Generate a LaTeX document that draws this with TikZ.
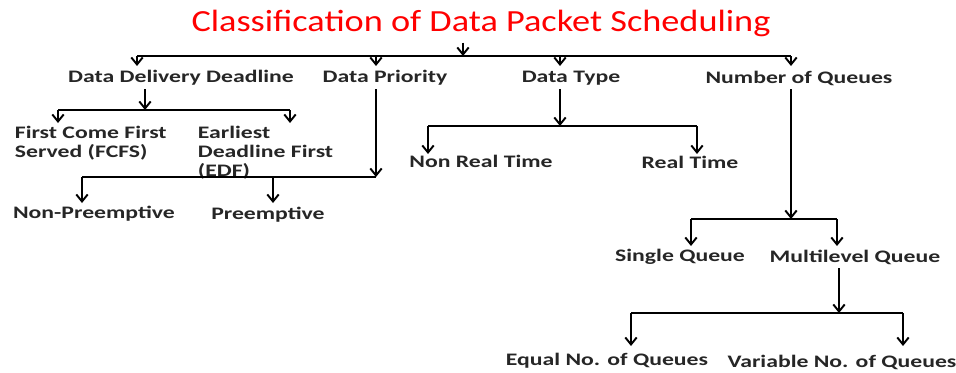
\documentclass[tikz,border=0pt]{standalone}
\usepackage{fontspec}
\setmainfont{Carlito}
\newfontfamily\ttlfont{Carlito}[FakeStretch=1.18]
\newfontfamily\lblfont{Carlito}[FakeStretch=1.35]
\usetikzlibrary{arrows.meta}

\tikzset{
  lbl/.style={font=\lblfont\bfseries\fontsize{10}{10.8}\selectfont,text=black!85,inner sep=2pt},
  conn/.style={line width=1.1pt,-{Straight Barb[length=4pt,width=6.5pt,line width=1.1pt]}}
}

\begin{document}
\begin{tikzpicture}[x=0.02cm,y=-0.02cm]
                \useasboundingbox (0,0) rectangle (956,372);
                \node[font=\ttlfont\fontsize{17.5}{20}\selectfont,text=red] (T) at (481,23) {Classification of Data Packet Scheduling};
                \node[lbl] (A) at (181,78) {Data Delivery Deadline};
                \node[lbl] (B) at (385,78) {Data Priority};
                \node[lbl] (C) at (571,78) {Data Type};
                \node[lbl] (D) at (799,78) {Number of Queues};
                \node[lbl,align=left,anchor=west] (E) at (11,143) {First Come First\\Served (FCFS)};
                \node[lbl,align=left,anchor=west] (F) at (194,153) {Earliest\\Deadline First\\(EDF)};
                \node[lbl] (G) at (94,214) {Non-Preemptive};
                \node[lbl] (H) at (268,215) {Preemptive};
                \node[lbl] (I) at (481,161) {Non Real Time};
                \node[lbl] (J) at (690,162) {Real Time};
                \node[lbl] (K) at (680,257) {Single Queue};
                \node[lbl] (L) at (855,257) {Multilevel Queue};
                \node[lbl] (M) at (607,361) {Equal No. of Queues};
                \node[lbl] (N) at (842,362) {Variable No. of Queues};
                % junctions on the bus lines
                \coordinate (t1) at (463,56);
                \coordinate (a1) at (145,110);
                \coordinate (b1) at (376,177);
                \coordinate (c1) at (560,126);
                \coordinate (d1) at (791,219);
                \coordinate (l1) at (839,313);
                % arrow tips
                \coordinate (a) at (137,66);
                \coordinate (b) at (376,66);
                \coordinate (c) at (560,66);
                \coordinate (d) at (791,66);
                \coordinate (e) at (58,123);
                \coordinate (f) at (290,123);
                \coordinate (g) at (82,203);
                \coordinate (h) at (273,203);
                \coordinate (i) at (428,154);
                \coordinate (j) at (697,154);
                \coordinate (k) at (691,246);
                \coordinate (l) at (837,246);
                \coordinate (m) at (631,346);
                \coordinate (n) at (903,346);
                % title
                \draw [conn] (T.south -| t1) -- (t1);
                \draw [line width=1.1pt] (a |- t1) -- (d |- t1);
                \draw [conn] (a |- t1) -- (a);
                \draw [conn] (b |- t1) -- (b);
                \draw [conn] (c |- t1) -- (c);
                \draw [conn] (d |- t1) -- (d);
                % data delivery deadline
                \draw [conn] (A.south -| a1) -- (a1);
                \draw [line width=1.1pt] (e |- a1) -- (f |- a1);
                \draw [conn] (e |- a1) -- (e);
                \draw [conn] (f |- a1) -- (f);
                % data priority
                \draw [conn] (B.south -| b1) -- (b1);
                \draw [line width=1.1pt] (g |- b1) -- (b1);
                \draw [conn] (g |- b1) -- (g);
                \draw [conn] (h |- b1) -- (h);
                % data type
                \draw [conn] (C.south -| c1) -- (c1);
                \draw [line width=1.1pt] (i |- c1) -- (j |- c1);
                \draw [conn] (i |- c1) -- (i);
                \draw [conn] (j |- c1) -- (j);
                % number of queues
                \draw [conn] (D.south -| d1) -- (d1);
                \draw [line width=1.1pt] (k |- d1) -- (l |- d1);
                \draw [conn] (k |- d1) -- (k);
                \draw [conn] (l |- d1) -- (l);
                % multilevel queue
                \draw [conn] (L.south -| l1) -- (l1);
                \draw [line width=1.1pt] (m |- l1) -- (n |- l1);
                \draw [conn] (m |- l1) -- (m);
                \draw [conn] (n |- l1) -- (n);
            \end{tikzpicture}
\end{document}
